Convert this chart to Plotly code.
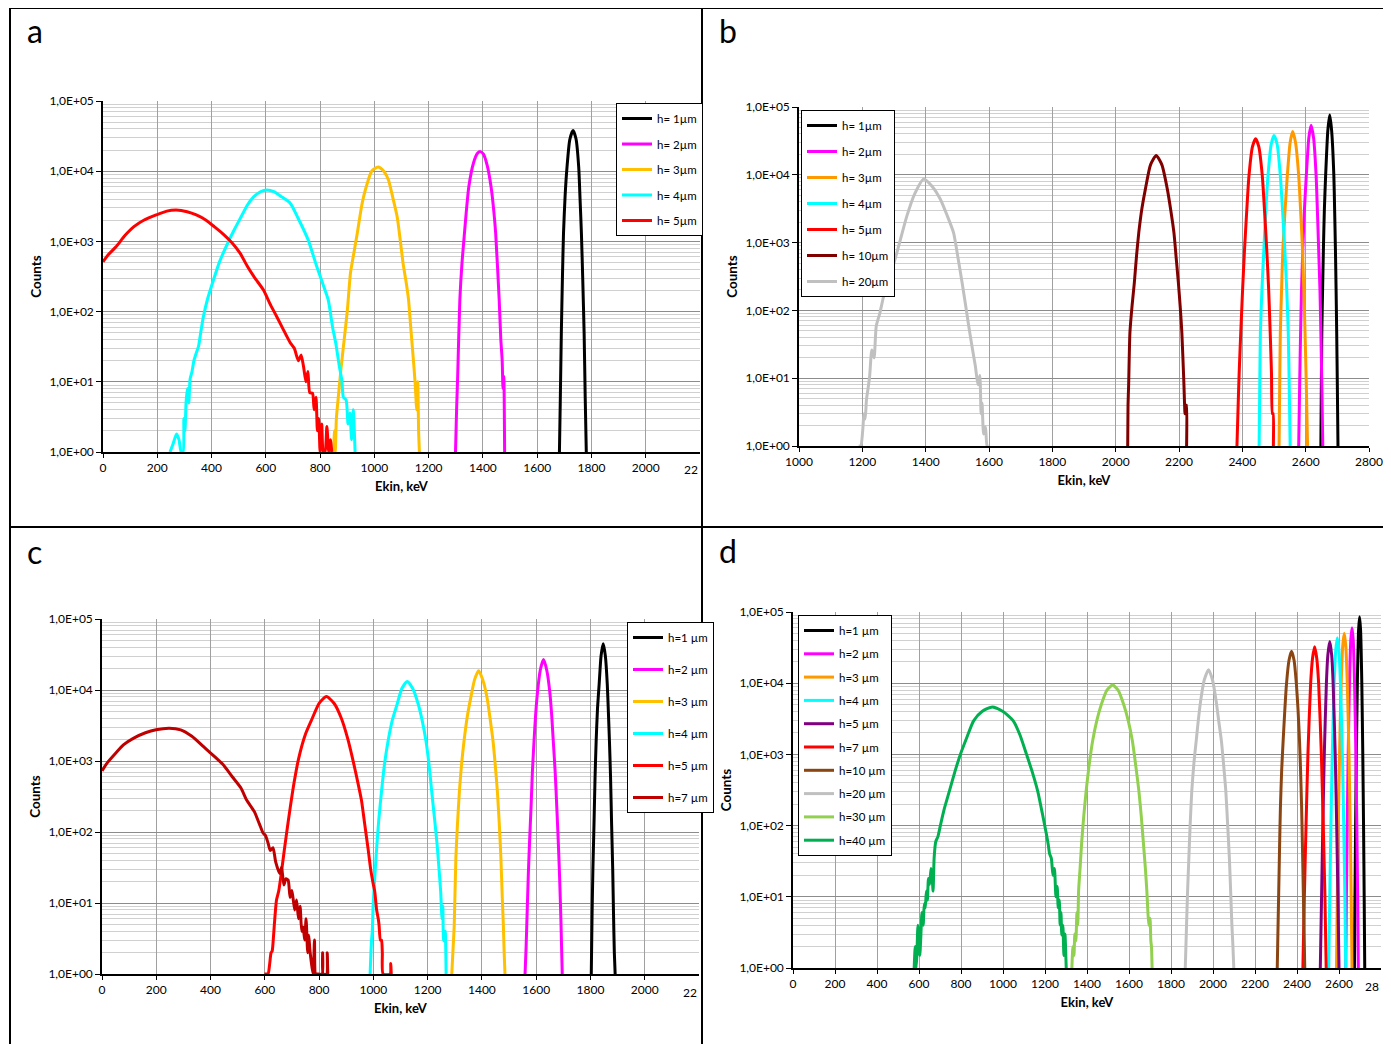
import plotly.graph_objects as go

W, H = 1391, 1044
OFF = 8  # page body margin compensation
FONT = "Lato, Liberation Sans, Arial, sans-serif"

# ---------------- tick labels ----------------
y_tick_vals = [1, 10, 100, 1000, 10000, 100000]
y_tick_text = ["1,0E+00", "1,0E+01", "1,0E+02", "1,0E+03", "1,0E+04", "1,0E+05"]
y_minor_vals = [m * 10 ** k for k in range(5) for m in range(2, 10)]
x_ticks_ac = [0, 200, 400, 600, 800, 1000, 1200, 1400, 1600, 1800, 2000]
x_ticks_b = [1000, 1200, 1400, 1600, 1800, 2000, 2200, 2400, 2600, 2800]
x_ticks_d = [0, 200, 400, 600, 800, 1000, 1200, 1400, 1600, 1800, 2000, 2200, 2400, 2600]

# ---------------- panel a ----------------
a_names = ["h= 1µm", "h= 2µm", "h= 3µm", "h= 4µm", "h= 5µm"]
a_colors = ["#000000", "#FF00FF", "#FFC000", "#00FFFF", "#FF0000"]
a_h1_E = [1682, 1685, 1689, 1693, 1697, 1703, 1710, 1720, 1732, 1743, 1753, 1758, 1763, 1768, 1773, 1777, 1781]
a_h1_C = [1, 5, 49, 300, 1300, 4500, 11500, 28000, 38000, 29000, 11500, 4000, 1300, 280, 49, 6, 1]
a_h2_E = [1299, 1303, 1307, 1315, 1323, 1332, 1340, 1348, 1365, 1380, 1391, 1402, 1416, 1430, 1439, 1447, 1460, 1466, 1471, 1474, 1477, 1480]
a_h2_C = [1, 4, 12, 147, 500, 1310, 3000, 6000, 13000, 18000, 19000, 17500, 12000, 6000, 3000, 1310, 147, 40, 20, 8, 12, 1]
a_h3_E = [850, 853, 856, 860, 867, 876, 886, 900, 912, 925, 937, 955, 970, 990, 1014, 1035, 1052, 1068, 1084, 1096,
          1106, 1118, 1126, 1134, 1142, 1150, 1156, 1160, 1163, 1166]
a_h3_C = [1, 2, 1, 3, 6, 14, 32, 100, 355, 700, 1310, 3500, 6000, 10000, 11500, 10000, 7500, 4200, 2240, 1000,
          480, 250, 147, 60, 25, 10, 4, 10, 2, 1]
a_h4_E = [247, 258, 271, 280, 288, 295, 298, 302, 306, 311, 316, 321, 328, 335, 344, 352, 360, 370, 385, 407,
          430, 460, 485, 509, 530, 555, 580, 604, 630, 655, 690, 720, 756, 788, 810, 830, 846, 858, 871, 880,
          886, 896, 903, 910, 916, 922, 929]
a_h4_C = [1, 1.3, 1.8, 1.5, 1, 1, 3, 2, 5, 8, 5, 11, 14, 20, 26, 32, 50, 85, 150, 282,
          520, 950, 1500, 2240, 3200, 4300, 5100, 5400, 5100, 4400, 3500, 2100, 1050, 436, 250, 147, 60, 35, 16.5, 10.6,
          6, 5.5, 2.5, 3.6, 1.5, 4, 1]
a_h5_E = [0, 20, 48, 80, 114, 150, 196, 235, 270, 310, 344, 380, 410, 445, 476, 505, 533, 560, 591, 615,
          640, 665, 690, 705, 720, 730, 739, 748, 755, 762, 772, 778, 785, 790, 795, 800, 806, 812, 818, 825,
          832, 838, 843]
a_h5_C = [513, 650, 840, 1200, 1620, 2000, 2380, 2700, 2800, 2650, 2380, 2000, 1620, 1250, 950, 680, 436, 300, 204, 130,
          85, 55, 36, 30, 20, 24, 16.5, 10, 14, 7, 6.9, 4, 6, 2, 3, 1, 2.5, 1, 1, 2.3,
          1, 1.5, 1]

# ---------------- panel b ----------------
b_names = ["h= 1µm", "h= 2µm", "h= 3µm", "h= 4µm", "h= 5µm", "h= 10µm", "h= 20µm"]
b_colors = ["#000000", "#FF00FF", "#FF9900", "#00FFFF", "#FF0000", "#800000", "#C0C0C0"]
b_h1_E = [2648, 2649.5, 2651, 2653.5, 2656, 2659, 2663, 2670, 2676, 2682, 2689, 2691.5, 2694, 2696, 2698, 2700, 2702]
b_h1_C = [1, 8, 47, 210, 800, 3000, 9700, 45000, 76000, 45000, 9700, 3000, 800, 210, 47, 8, 1]
b_h2_E = [2578, 2581, 2584, 2587, 2591, 2596, 2602, 2610, 2617, 2625, 2633, 2637, 2641, 2645, 2648, 2651, 2654]
b_h2_C = [1, 8, 47, 210, 800, 3000, 9700, 35000, 53700, 35000, 9700, 3000, 800, 210, 47, 8, 1]
b_h3_E = [2516, 2518, 2520, 2524, 2528, 2535, 2542, 2551, 2559, 2568, 2578, 2584, 2590, 2594, 2598, 2602, 2606]
b_h3_C = [1, 8, 47, 210, 800, 3000, 9700, 30000, 43600, 30000, 9700, 3000, 800, 210, 47, 8, 1]
b_h4_E = [2453, 2455, 2457, 2462, 2468, 2474, 2481, 2491, 2500, 2510, 2520, 2527, 2534, 2540, 2545, 2548, 2551]
b_h4_C = [1, 8, 47, 210, 800, 3000, 9700, 28000, 38000, 28000, 9700, 3000, 800, 210, 47, 8, 1]
b_h5_E = [2383, 2386, 2390, 2395, 2401, 2407, 2414, 2421, 2432, 2442, 2452, 2463, 2470, 2477, 2483, 2488, 2492, 2495, 2497, 2498]
b_h5_C = [1, 3, 12, 47, 210, 800, 3000, 9700, 26000, 34000, 26000, 9700, 3000, 800, 210, 47, 12, 3, 3, 1]
b_h10_E = [2038, 2039, 2041, 2045, 2052, 2059, 2066, 2073, 2083, 2094, 2110, 2128, 2146, 2163, 2174, 2184, 2191, 2198, 2204, 2209,
           2215, 2219, 2221, 2223, 2224]
b_h10_C = [1, 4, 8, 47, 120, 257, 650, 1400, 3200, 6200, 14000, 19200, 14000, 6200, 3000, 1400, 600, 257, 110, 47,
           9.6, 3, 4, 4, 1]
b_h20_E = [1188, 1195, 1202, 1205, 1209, 1213, 1218, 1223, 1230, 1237, 1244, 1255, 1265, 1280, 1300, 1320, 1341, 1365, 1394, 1420,
           1446, 1468, 1488, 1502, 1515, 1526, 1536, 1546, 1557, 1565, 1571, 1575, 1578, 1583, 1589, 1594, 1599]
b_h20_C = [1, 1, 1.9, 3, 2.5, 4.8, 7, 10.6, 26, 20, 59, 90, 146, 280, 505, 1100, 2500, 5200, 8700, 6800,
           4400, 2500, 1400, 600, 257, 120, 59, 30, 15, 8, 11, 3, 4.3, 1.5, 1.9, 1, 1]

# ---------------- panel c ----------------
c_names = ["h=1 µm", "h=2 µm", "h=3 µm", "h=4 µm", "h=5 µm", "h=7 µm"]
c_colors = ["#000000", "#FF00FF", "#FFC000", "#00FFFF", "#FF0000", "#C00000"]
c_h1_E = [1803, 1806, 1809, 1813, 1817, 1821, 1826, 1832, 1839, 1847, 1855, 1862, 1866, 1870, 1874, 1878, 1882, 1885, 1888, 1891]
c_h1_C = [1, 7, 30, 126, 600, 1900, 5500, 12000, 30000, 44900, 30000, 12000, 5000, 1900, 600, 126, 30, 7, 2, 1]
c_h2_E = [1559, 1563, 1567, 1571, 1576, 1581, 1586, 1592, 1598, 1605, 1615, 1627, 1639, 1650, 1657, 1663, 1670, 1676, 1681, 1686,
          1691, 1696]
c_h2_C = [1, 2.5, 8, 25, 80, 220, 700, 1900, 4500, 9500, 19000, 26800, 19000, 9500, 4500, 1900, 700, 220, 80, 25,
          6, 1]
c_h3_E = [1289, 1293, 1298, 1304, 1310, 1317, 1325, 1334, 1346, 1359, 1373, 1388, 1403, 1419, 1430, 1441, 1449, 1457, 1464, 1470,
          1475, 1479, 1482, 1485]
c_h3_C = [1, 2, 4.9, 43, 130, 372, 900, 1900, 4200, 7800, 14000, 18700, 14000, 7800, 4000, 1900, 900, 372, 130, 43,
          12, 4.9, 2, 1]
c_h4_E = [988, 991, 993, 996, 999, 1002, 1007, 1013, 1020, 1030, 1041, 1054, 1070, 1087, 1105, 1125, 1145, 1166, 1180, 1194,
          1205, 1215, 1225, 1235, 1242, 1248, 1253, 1256, 1259, 1262, 1265, 1268]
c_h4_C = [1, 2, 2.9, 4, 9, 14.6, 30, 66, 150, 372, 900, 1900, 3800, 6200, 10500, 13200, 10500, 6200, 3700, 1900,
          900, 372, 160, 66, 30, 14.6, 6, 9, 3, 2.9, 4, 1]
c_h5_E = [598, 605, 612, 618, 623, 627, 631, 635, 643, 651, 660, 668, 680, 692, 708, 725, 750, 775, 800, 827,
          855, 882, 905, 923, 940, 956, 968, 981, 990, 999, 1005, 1012, 1018, 1021, 1026, 1030, 1033, 1036, 1062, 1064,
          1066]
c_h5_C = [1, 1, 1, 1.4, 2, 2.1, 3, 4.9, 11, 14.6, 25, 43, 95, 200, 500, 1100, 2400, 4000, 6500, 8100,
          6500, 4000, 2100, 1100, 560, 282, 130, 56, 30, 19, 14.6, 8, 6, 4.9, 3, 3, 2, 1, 1, 1.4,
          1]
c_h7_E = [0, 20, 51, 80, 117, 160, 199, 248, 290, 330, 380, 415, 446, 480, 512, 533, 561, 580, 594, 602,
          612, 620, 630, 640, 655, 662, 670, 678, 686, 693, 700, 710, 717, 724, 730, 736, 741, 747, 752, 758,
          762, 766, 772, 778, 783, 787, 792, 811, 813, 815, 828, 830, 832]
c_h7_C = [727, 950, 1300, 1700, 2100, 2500, 2760, 2900, 2750, 2250, 1520, 1150, 890, 600, 417, 282, 195, 130, 96, 90,
          70, 55, 60, 38, 26, 32, 18, 22, 21, 12, 15, 8, 11, 6, 9, 4, 4.6, 3, 6, 2,
          3.5, 2.2, 1.4, 1, 3, 1, 1, 1, 2, 1, 1, 2, 1]

# ---------------- panel d ----------------
d_names = ["h=1 µm", "h=2 µm", "h=3 µm", "h=4 µm", "h=5 µm", "h=7 µm", "h=10 µm", "h=20 µm", "h=30 µm", "h=40 µm"]
d_colors = ["#000000", "#FF00FF", "#FF9900", "#00FFFF", "#800080", "#FF0000", "#8B4513", "#C0C0C0", "#92D050", "#00B050"]
d_h1_E = [2673.5, 2676.1, 2679.1, 2682.7, 2687.4, 2693.3, 2698, 2702.7, 2708.6, 2713.3, 2716.9, 2719.9, 2722.5]
d_h1_C = [1, 10, 100, 1000, 10000, 56000, 85800, 56000, 10000, 1000, 100, 10, 1]
d_h2_E = [2632, 2635.3, 2639.1, 2643.7, 2649.9, 2656.2, 2662, 2667.8, 2674.1, 2680.3, 2684.9, 2688.7, 2692]
d_h2_C = [1, 10, 100, 1000, 10000, 40000, 60300, 40000, 10000, 1000, 100, 10, 1]
d_h3_E = [2588, 2592, 2596.6, 2602.5, 2610.5, 2617.3, 2625, 2632.7, 2639.5, 2647.5, 2653.4, 2658, 2662]
d_h3_C = [1, 10, 100, 1000, 10000, 32000, 50100, 32000, 10000, 1000, 100, 10, 1]
d_h4_E = [2551, 2556, 2561.5, 2568, 2577, 2584, 2592, 2600, 2607, 2616, 2622.5, 2628, 2632]
d_h4_C = [1, 10, 100, 1000, 10000, 28000, 43600, 28000, 10000, 1000, 100, 10, 1]
d_h5_E = [2511, 2517, 2523, 2530, 2540, 2547, 2556, 2565, 2572, 2582, 2589, 2595, 2600]
d_h5_C = [1, 10, 100, 1000, 10000, 25000, 38400, 25000, 10000, 1000, 100, 10, 1]
d_h7_E = [2428, 2435, 2443, 2452, 2465, 2474, 2484, 2494, 2503, 2516, 2525, 2533, 2539]
d_h7_C = [1, 10, 100, 1000, 10000, 22400, 32600, 22400, 10000, 1000, 100, 10, 1]
d_h10_E = [2306, 2309, 2313, 2317, 2321, 2327, 2334, 2342, 2350, 2362, 2374, 2386, 2397, 2405, 2412, 2417, 2422, 2426, 2430, 2434, 2437]
d_h10_C = [1, 3, 12, 50, 178, 600, 1550, 4200, 9800, 21000, 28000, 21000, 9800, 4200, 1550, 600, 178, 50, 12, 3, 1]
d_h20_E = [1868, 1871, 1874, 1879, 1885, 1891, 1899, 1909, 1920, 1930, 1941, 1958, 1979, 1998, 2015, 2027, 2040, 2050, 2061, 2070,
           2078, 2084, 2090, 2095, 2099]
d_h20_C = [1, 2, 4, 12, 35, 100, 307, 750, 1550, 3000, 5600, 11000, 15500, 11000, 5600, 3000, 1550, 750, 307, 100,
           35, 12, 4, 2, 1]
d_h30_E = [1328, 1333, 1338, 1342, 1347, 1352, 1356, 1360, 1367, 1375, 1385, 1396, 1410, 1427, 1447, 1469, 1495, 1522, 1548, 1574,
           1596, 1616, 1632, 1647, 1658, 1668, 1678, 1685, 1689, 1694, 1700, 1704, 1707, 1710]
d_h30_C = [1, 2, 1.5, 3, 2.4, 6, 4, 12, 25, 60, 140, 307, 700, 1550, 3000, 5100, 8000, 9400, 8000, 5100,
           3000, 1550, 700, 307, 140, 60, 25, 12, 7, 4, 5, 2.4, 2, 1]
d_h40_E = [577, 582, 586, 590, 595, 600, 604, 609, 614, 620, 625, 630, 635, 640, 645, 651, 657, 662, 667, 672,
           680, 690, 703, 720, 745, 770, 797, 830, 860, 900, 949, 1000, 1049, 1080, 1112, 1140, 1165, 1187, 1207, 1215,
           1222, 1230, 1238, 1245, 1252, 1258, 1263, 1268, 1272, 1276, 1280, 1285, 1290, 1295, 1301]
d_h40_C = [1, 2, 1, 1.5, 4, 3, 1.5, 2.9, 6, 4, 8, 7, 12, 9, 18, 15, 25, 20, 12, 35,
           60, 70, 104, 170, 307, 560, 1000, 1800, 2960, 4000, 4650, 4000, 2960, 1900, 1000, 560, 307, 150, 75, 55,
           40, 35, 20, 25, 10, 14, 7, 9, 4, 6, 2.9, 4, 1.5, 3, 1]

panels = [
    dict(sfx="", leg="legend", names=a_names, colors=a_colors,
         data=[(a_h1_E, a_h1_C), (a_h2_E, a_h2_C), (a_h3_E, a_h3_C), (a_h4_E, a_h4_C), (a_h5_E, a_h5_C)],
         xd=(103, 700), yd=(101, 452), xr=[0, 2200], xt=x_ticks_ac, clip=("22", 2200, 470),
         lpos=(616, 103), gap=6.5, letter=("a", 35, 31)),
    dict(sfx="2", leg="legend2", names=b_names, colors=b_colors,
         data=[(b_h1_E, b_h1_C), (b_h2_E, b_h2_C), (b_h3_E, b_h3_C), (b_h4_E, b_h4_C), (b_h5_E, b_h5_C),
               (b_h10_E, b_h10_C), (b_h20_E, b_h20_C)],
         xd=(799, 1369), yd=(107, 446), xr=[1000, 2800], xt=x_ticks_b, clip=None,
         lpos=(801, 110), gap=7, letter=("b", 728, 31)),
    dict(sfx="3", leg="legend3", names=c_names, colors=c_colors,
         data=[(c_h1_E, c_h1_C), (c_h2_E, c_h2_C), (c_h3_E, c_h3_C), (c_h4_E, c_h4_C), (c_h5_E, c_h5_C),
               (c_h7_E, c_h7_C)],
         xd=(102, 699), yd=(619, 974), xr=[0, 2200], xt=x_ticks_ac, clip=("22", 2200, 992),
         lpos=(627, 622), gap=13, letter=("c", 35, 551)),
    dict(sfx="4", leg="legend4", names=d_names, colors=d_colors,
         data=[(d_h1_E, d_h1_C), (d_h2_E, d_h2_C), (d_h3_E, d_h3_C), (d_h4_E, d_h4_C), (d_h5_E, d_h5_C),
               (d_h7_E, d_h7_C), (d_h10_E, d_h10_C), (d_h20_E, d_h20_C), (d_h30_E, d_h30_C), (d_h40_E, d_h40_C)],
         xd=(793, 1381), yd=(612, 968), xr=[0, 2800], xt=x_ticks_d, clip=("28", 2800, 986),
         lpos=(798, 615), gap=4.3, letter=("d", 728, 550)),
]


def fx(px):
    return (px - OFF) / W


def fy(py):
    return 1 - (py - OFF) / H


fig = go.Figure()
layout = {}
annotations = []

for p in panels:
    s = p["sfx"]
    for i, ((E, C), name, col) in enumerate(zip(p["data"], p["names"], p["colors"])):
        fig.add_trace(go.Scatter(
            x=E, y=C, mode="lines", name=name,
            line=dict(color=col, width=3, shape="spline", smoothing=0.6),
            xaxis="x" + s, yaxis="y" + s,
            legend=p["leg"], legendgroup=p["leg"] + str(i),
        ))
    x0, x1 = p["xd"]
    y0, y1 = p["yd"]
    layout["xaxis" + s] = dict(
        domain=[fx(x0), fx(x1)], range=p["xr"], anchor="y" + s, automargin=False,
        tickmode="array", tickvals=p["xt"],
        showgrid=True, gridcolor="#a0a0a0", gridwidth=1, zeroline=False,
        showline=True, linecolor="#000000", linewidth=1.5,
        ticks="outside", ticklen=4, tickcolor="#000000",
        tickfont=dict(family=FONT, size=12, color="#000"),
        title=dict(text="<b>Ekin, keV</b>", font=dict(family=FONT, size=13, color="#000"), standoff=8),
    )
    layout["yaxis" + s] = dict(
        domain=[fy(y1), fy(y0)], type="log", range=[0, 5], anchor="x" + s, automargin=False,
        tickmode="array", tickvals=y_tick_vals, ticktext=y_tick_text,
        showgrid=True, gridcolor="#8c8c8c", gridwidth=1, zeroline=False,
        showline=True, linecolor="#000000", linewidth=1.5,
        ticks="outside", ticklen=5, tickcolor="#000000",
        tickfont=dict(family=FONT, size=12, color="#000"),
        minor=dict(tickmode="array", tickvals=y_minor_vals, showgrid=True, gridcolor="#d0d0d0", ticks=""),
        title=dict(text="<b>Counts</b>", font=dict(family=FONT, size=13.5, color="#000"), standoff=5),
    )
    lx, ly = p["lpos"]
    layout[p["leg"]] = dict(
        x=fx(lx), y=fy(ly), xanchor="left", yanchor="top",
        bgcolor="#FFFFFF", bordercolor="#000000", borderwidth=1,
        font=dict(family=FONT, size=11.5, color="#000"),
        traceorder="grouped", tracegroupgap=p["gap"], itemwidth=30,
    )
    if p["clip"]:
        txt, xv, ypx = p["clip"]
        annotations.append(dict(text=txt, x=xv, xref="x" + s, y=fy(ypx), yref="paper",
                                xanchor="right", yanchor="middle", showarrow=False,
                                font=dict(family=FONT, size=12, color="#000")))
    lt, lxp, lyp = p["letter"]
    annotations.append(dict(text=lt, x=fx(lxp), y=fy(lyp), xref="paper", yref="paper",
                            xanchor="center", yanchor="middle", showarrow=False,
                            font=dict(family=FONT, size=32, color="#000")))


def hline(y, xa, xb):
    return dict(type="line", xref="paper", yref="paper", x0=fx(xa), x1=fx(xb), y0=fy(y), y1=fy(y),
                line=dict(color="#000000", width=2))


def vline(x, ya, yb):
    return dict(type="line", xref="paper", yref="paper", x0=fx(x), x1=fx(x), y0=fy(ya), y1=fy(yb),
                line=dict(color="#000000", width=2))


shapes = [hline(8, 10, 1386), hline(527, 10, 1386), vline(10, 8, 1060), vline(702, 8, 1060), vline(1385, 8, 1060)]

fig.update_layout(
    template="none",
    width=W, height=H, margin=dict(l=0, r=0, t=0, b=0, pad=0), autosize=False,
    paper_bgcolor="#FFFFFF", plot_bgcolor="#FFFFFF",
    font=dict(family=FONT, size=11, color="#000"),
    annotations=annotations, shapes=shapes, showlegend=True,
    **layout,
)

fig.write_html("out.html")
